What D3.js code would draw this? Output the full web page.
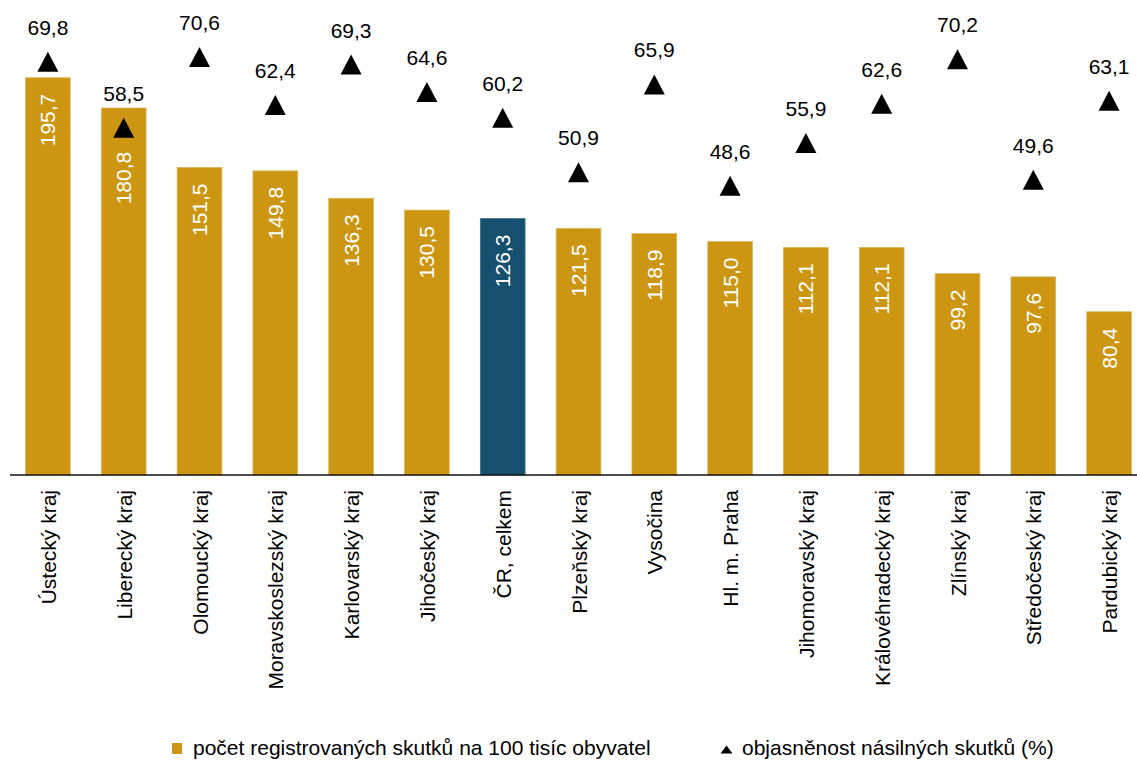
<!DOCTYPE html>
<html><head><meta charset="utf-8">
<script src="https://cdn.jsdelivr.net/npm/d3@7"></script>
<style>body{margin:0;background:#fff}svg{display:block;font-family:"Liberation Sans",Arial,sans-serif}</style>
</head><body><svg id="c" width="1137" height="760"></svg>
<script>
const categories = ["Ústecký kraj","Liberecký kraj","Olomoucký kraj","Moravskoslezský kraj","Karlovarský kraj","Jihočeský kraj","ČR, celkem","Plzeňský kraj","Vysočina","Hl. m. Praha","Jihomoravský kraj","Královéhradecký kraj","Zlínský kraj","Středočeský kraj","Pardubický kraj"];
const crimeRate = [195.7,180.8,151.5,149.8,136.3,130.5,126.3,121.5,118.9,115.0,112.1,112.1,99.2,97.6,80.4];
const clearance = [69.8,58.5,70.6,62.4,69.3,64.6,60.2,50.9,65.9,48.6,55.9,62.6,70.2,49.6,63.1];
const highlight = "ČR, celkem";
const legendLabels = ["počet registrovaných skutků na 100 tisíc obyvatel","objasněnost násilných skutků (%)"];

const fmt = v => v.toFixed(1).replace(".", ",");
const svg = d3.select("#c");
const base = 475;
const FS = 21;
const x = d3.scaleBand().domain(categories).range([10, 1147]).paddingInner(0.41).paddingOuter(0.205);
const y = d3.scaleLinear().domain([0, 250]).range([base, base - 250*2.03]);
const y2 = d3.scaleLinear().domain([0, 80]).range([470, 2]);
const gold = "#CC9613", blue = "#17506F";
const cx = c => x(c) + x.bandwidth()/2;

const data = categories.map((c,i)=>({c, v:crimeRate[i], p:clearance[i]}));

svg.append("g").selectAll("rect").data(data).join("rect")
  .attr("x", d=>x(d.c)).attr("width", x.bandwidth())
  .attr("y", d=>y(d.v)).attr("height", d=>base - y(d.v))
  .attr("fill", d=>d.c===highlight?blue:gold)
  .attr("stroke", d=>d.c===highlight?"#3f6f8a":"#dcb55a").attr("stroke-width",0.8);

// axis
const ax = svg.append("g").attr("transform",`translate(0,${base})`).call(d3.axisBottom(x).tickSize(0).tickPadding(0));
ax.select(".domain").attr("stroke","#111").attr("stroke-width",1.6).attr("d","M10,0H1137");
ax.selectAll(".tick text").attr("font-size",FS).attr("fill","#000")
  .attr("text-anchor","end").attr("dy",null)
  .attr("transform","translate(8,15) rotate(-90)");

// triangles
const triPath = (w,h) => `M0,${-h/2}L${w/2},${h/2}L${-w/2},${h/2}Z`;
svg.append("g").selectAll("path").data(data).join("path")
  .attr("d", triPath(21,20)).attr("fill","#000")
  .attr("transform", d=>`translate(${cx(d.c)},${y2(d.p)})`);
svg.append("g").selectAll("text").data(data).join("text")
  .attr("x", d=>cx(d.c)).attr("y", d=>y2(d.p)-27)
  .attr("text-anchor","middle").attr("font-size",FS).attr("fill","#000")
  .text(d=>fmt(d.p));

// bar value labels
svg.append("g").selectAll("text").data(data).join("text")
  .attr("transform", d=>{
    const top = Math.max(y(d.v)+16, (y2(d.p) > y(d.v) ? y2(d.p)+24 : 0));
    return `translate(${cx(d.c)+7.5},${top}) rotate(-90)`;})
  .attr("text-anchor","end").attr("font-size",FS).attr("fill","#fff")
  .text(d=>fmt(d.v));

// legend
const lg = svg.append("g");
lg.append("rect").attr("x",172).attr("y",743).attr("width",10).attr("height",11).attr("fill",gold);
lg.append("text").attr("x",193).attr("y",755).attr("font-size",FS).text(legendLabels[0]);
lg.append("path").attr("d", triPath(12,8)).attr("transform","translate(726.5,749.5)");
lg.append("text").attr("x",742).attr("y",755).attr("font-size",FS).text(legendLabels[1]);
</script></body></html>
